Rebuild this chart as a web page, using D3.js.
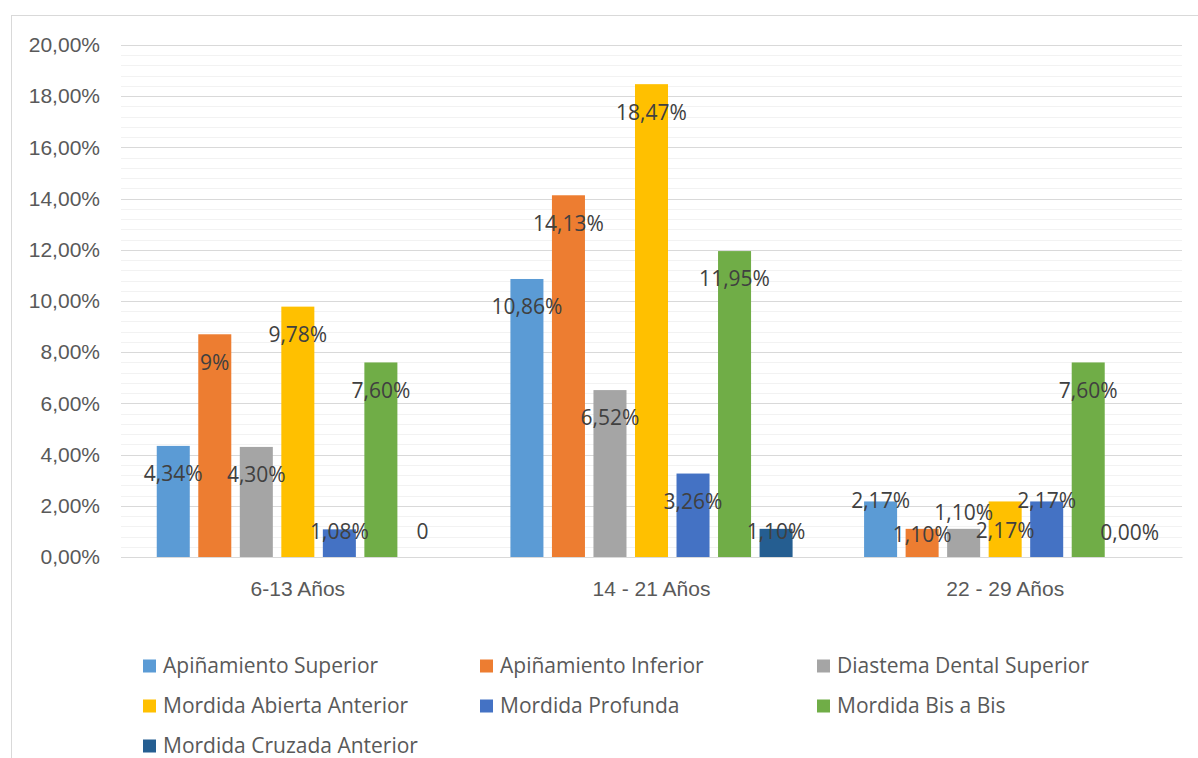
<!DOCTYPE html>
<html>
<head>
<meta charset="utf-8">
<script src="https://cdn.jsdelivr.net/npm/d3@7/dist/d3.min.js"></script>
<style>
  html, body { margin: 0; padding: 0; background: #ffffff; }
  svg { display: block; font-family: "Open Sans", "Noto Sans", sans-serif; }
</style>
</head>
<body>
<svg id="chart" width="1198" height="758"></svg>
<script>
// Age groups on the category axis
const categories = ["6-13 Años", "14 - 21 Años", "22 - 29 Años"];

// Series names, in legend order
const seriesNames = [
  "Apiñamiento Superior",
  "Apiñamiento Inferior",
  "Diastema Dental Superior",
  "Mordida Abierta Anterior",
  "Mordida Profunda",
  "Mordida Bis a Bis",
  "Mordida Cruzada Anterior"
];

// Prevalence per age group (fraction of patients)
const apinamientoSuperior    = [0.0434, 0.1086, 0.0217];
const apinamientoInferior    = [0.0870, 0.1413, 0.0110];
const diastemaDentalSuperior = [0.0430, 0.0652, 0.0110];
const mordidaAbiertaAnterior = [0.0978, 0.1847, 0.0217];
const mordidaProfunda        = [0.0108, 0.0326, 0.0217];
const mordidaBisABis         = [0.0760, 0.1195, 0.0760];
const mordidaCruzadaAnterior = [0.0000, 0.0110, 0.0000];

// Number format of each data label (series x age group)
const labelFormats = [
  [".2%", ".2%", ".2%"],
  [".0%", ".2%", ".2%"],
  [".2%", ".2%", ".2%"],
  [".2%", ".2%", ".2%"],
  [".2%", ".2%", ".2%"],
  [".2%", ".2%", ".2%"],
  ["~g",  ".2%", ".2%"]
];

// Y axis ticks
const yTicks = [0, 0.02, 0.04, 0.06, 0.08, 0.10, 0.12, 0.14, 0.16, 0.18, 0.20];

const seriesValues = [
  apinamientoSuperior, apinamientoInferior, diastemaDentalSuperior,
  mordidaAbiertaAnterior, mordidaProfunda, mordidaBisABis, mordidaCruzadaAnterior
];

const colors = ["#5B9BD5", "#ED7D31", "#A5A5A5", "#FFC000", "#4472C4", "#70AD47", "#255E91"];

// Manual nudges for labels that were moved apart in the last group
const labelNudge = {
  "0-2": -29, "1-2": 3, "2-2": -19, "3-2": 1, "4-2": -29, "6-2": 1
};

const locale = d3.formatLocale({
  decimal: ",", thousands: ".", grouping: [3], currency: ["", " €"], percent: "%"
});

const svg = d3.select("#chart");
const plot = { left: 121, right: 1182, top: 45, bottom: 557 };
const fontSize = "21px";

// Chart area frame
svg.append("rect")
  .attr("x", 11.5).attr("y", 15.5)
  .attr("width", 1300).attr("height", 900)
  .attr("fill", "#ffffff")
  .attr("stroke", "#d9d9d9").attr("stroke-width", 1);

const y = d3.scaleLinear().domain([0, 0.20]).range([plot.bottom, plot.top]);
const x0 = d3.scaleBand().domain(categories).range([plot.left, plot.right]).paddingInner(0).paddingOuter(0);
const groupPad = 35.75;
const x1 = d3.scaleBand().domain(d3.range(seriesNames.length))
  .range([groupPad, x0.bandwidth() - groupPad])
  .paddingInner(8.5 / 41.5).paddingOuter(0);

// Minor gridlines
const minorTicks = d3.range(0, 0.2001, 0.004).filter(v => Math.abs(Math.round(v / 0.02) * 0.02 - v) > 1e-6);
svg.append("g").selectAll("line").data(minorTicks).join("line")
  .attr("x1", plot.left).attr("x2", plot.right)
  .attr("y1", d => Math.round(y(d)) + 0.5).attr("y2", d => Math.round(y(d)) + 0.5)
  .attr("stroke", "#f2f2f2").attr("stroke-width", 1);

// Major gridlines and y axis labels
const yAxis = d3.axisLeft(y).tickValues(yTicks).tickSize(0).tickPadding(0)
  .tickFormat(locale.format(".2%"));
const gy = svg.append("g").attr("transform", `translate(${plot.left - 21},0)`).call(yAxis);
gy.select(".domain").remove();
gy.selectAll("text").attr("fill", "#595959").style("font-size", fontSize)
  .attr("font-family", null);

svg.append("g").selectAll("line").data(yTicks).join("line")
  .attr("x1", plot.left).attr("x2", plot.right)
  .attr("y1", d => Math.round(y(d)) + 0.5).attr("y2", d => Math.round(y(d)) + 0.5)
  .attr("stroke", "#d9d9d9").attr("stroke-width", 1);

// Bars
const groups = svg.append("g").selectAll("g").data(categories).join("g")
  .attr("transform", d => `translate(${x0(d)},0)`);

groups.each(function (cat, ci) {
  const g = d3.select(this);
  seriesValues.forEach((vals, si) => {
    const v = vals[ci];
    g.append("rect")
      .attr("x", x1(si)).attr("width", x1.bandwidth())
      .attr("y", y(v)).attr("height", y(0) - y(v))
      .attr("fill", colors[si]);
  });
});

// Data labels
groups.each(function (cat, ci) {
  const g = d3.select(this);
  seriesValues.forEach((vals, si) => {
    const v = vals[ci];
    const base = Math.min(y(v) + 28, y(0) - 25);
    const ly = base + (labelNudge[`${si}-${ci}`] || 0);
    g.append("text")
      .attr("x", x1(si) + x1.bandwidth() / 2)
      .attr("y", ly).attr("dy", "0.35em")
      .attr("text-anchor", "middle")
      .attr("fill", "#404040").style("font-size", fontSize)
      .text(locale.format(labelFormats[si][ci])(v));
  });
});

// Category axis
const xAxis = d3.axisBottom(x0).tickSize(0).tickPadding(0);
const gx = svg.append("g").attr("transform", `translate(0,${plot.bottom})`).call(xAxis);
gx.select(".domain").attr("stroke", "#d9d9d9");
gx.selectAll("text").attr("y", 32).attr("dy", "0.35em").attr("fill", "#595959")
  .style("font-size", fontSize).attr("font-family", null);

// Legend
const legend = svg.append("g");
const legendCols = [143, 480, 817];
const legendRows = [666, 706, 746];
seriesNames.forEach((name, i) => {
  const lx = legendCols[i % 3], ly = legendRows[Math.floor(i / 3)];
  const item = legend.append("g").attr("transform", `translate(${lx},${ly})`);
  item.append("rect").attr("x", 0).attr("y", -6.5).attr("width", 13).attr("height", 13)
    .attr("fill", colors[i]);
  item.append("text").attr("x", 20).attr("y", 0).attr("dy", "0.35em")
    .attr("fill", "#595959").style("font-size", fontSize).text(name);
});
</script>
</body>
</html>
